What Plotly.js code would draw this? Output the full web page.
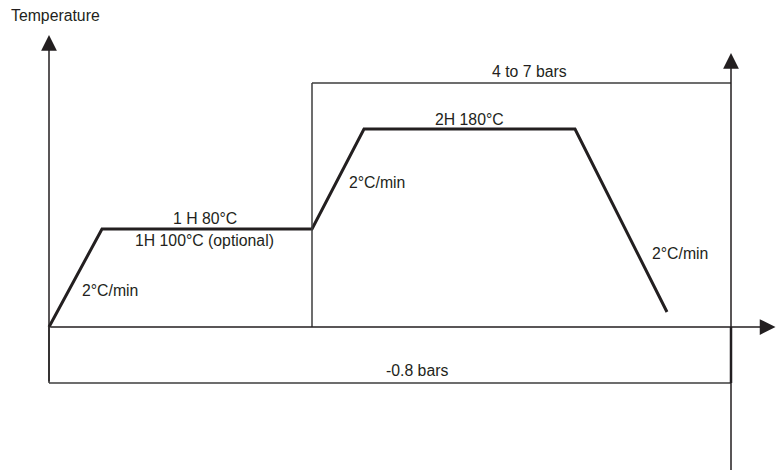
<!DOCTYPE html>
<html>
<head>
<meta charset="utf-8">
<script src="https://cdn.plot.ly/plotly-3.0.1.min.js"></script>
<style>html,body{margin:0;padding:0;background:#fff;}#chart{width:776px;height:472px;}</style>
</head>
<body>
<div id="chart"></div>
<script>
// Cure cycle profile (schematic units: time along x, temperature along y)
const profileTime = [0, 53, 263, 315, 526, 618];
const profileTemp = [0, 98, 98, 198, 198, 15];

// Pressure phases
const phaseLabels = ['-0.8 bars', '4 to 7 bars'];
const phaseStart = [0, 263];
const phaseEnd = [682, 682];
const phaseLevel = [-56, 244];

// Segment labels
const stepLabels = ['2°C/min', '1 H 80°C', '1H 100°C (optional)', '2°C/min', '2H 180°C', '2°C/min'];
const axisLabel = 'Temperature';

const ink = '#231f20';
const boxInk = '#3c3c3c';
const font = {family: 'Liberation Sans, Arial, sans-serif', size: 15.8, color: ink};

const shapes = [];
phaseLabels.forEach((lab, i) => {
  shapes.push({type: 'line', xref: 'x', yref: 'y', x0: phaseStart[i], x1: phaseEnd[i], y0: phaseLevel[i], y1: phaseLevel[i], line: {color: boxInk, width: 1.5}});
  shapes.push({type: 'line', xref: 'x', yref: 'y', x0: phaseStart[i], x1: phaseStart[i], y0: 0, y1: phaseLevel[i], line: {color: boxInk, width: 1.5}});
});
// thick right edge of vacuum box
shapes.push({type: 'line', xref: 'x', yref: 'y', x0: phaseEnd[0], x1: phaseEnd[0], y0: 0, y1: phaseLevel[0], line: {color: ink, width: 2.5}});

const arrow = (x, y, ax, ay) => ({
  xref: 'x', yref: 'y', axref: 'x', ayref: 'y', x: x, y: y, ax: ax, ay: ay,
  text: '', showarrow: true, arrowhead: 2, arrowsize: 2.1, arrowwidth: 1.5, arrowcolor: ink
});

const annotations = [
  arrow(0, 292, 0, phaseLevel[0]),                 // temperature axis
  arrow(726.5, 0, 0, 0),                           // time axis
  arrow(phaseEnd[1], 274, phaseEnd[1], -144.5),     // pressure axis
  {xref: 'x', yref: 'y', x: 6, y: 312, text: axisLabel, showarrow: false, font: font},
  {xref: 'x', yref: 'y', x: (phaseStart[0] + phaseEnd[0]) / 2 + 27, y: -43, text: phaseLabels[0], showarrow: false, font: font},
  {xref: 'x', yref: 'y', x: (phaseStart[1] + phaseEnd[1]) / 2 + 8, y: 256, text: phaseLabels[1], showarrow: false, font: font},
  {xref: 'x', yref: 'y', x: 61, y: 37, text: stepLabels[0], showarrow: false, font: font},
  {xref: 'x', yref: 'y', x: 156, y: 109, text: stepLabels[1], showarrow: false, font: font},
  {xref: 'x', yref: 'y', x: 155, y: 87, text: stepLabels[2], showarrow: false, font: font},
  {xref: 'x', yref: 'y', x: 327.5, y: 145, text: stepLabels[3], showarrow: false, font: font},
  {xref: 'x', yref: 'y', x: 420, y: 208, text: stepLabels[4], showarrow: false, font: font},
  {xref: 'x', yref: 'y', x: 630.5, y: 74, text: stepLabels[5], showarrow: false, font: font}
];

const traces = [{
  type: 'scatter', mode: 'lines', x: profileTime, y: profileTemp,
  line: {color: ink, width: 3}, hoverinfo: 'skip', showlegend: false, cliponaxis: false
}];

const layout = {
  width: 776, height: 472,
  margin: {l: 0, r: 0, t: 0, b: 0, pad: 0},
  paper_bgcolor: '#ffffff', plot_bgcolor: '#ffffff',
  xaxis: {range: [-49, 727], autorange: false, visible: false, fixedrange: true},
  yaxis: {range: [-145, 327], autorange: false, visible: false, fixedrange: true},
  shapes: shapes,
  annotations: annotations,
  showlegend: false
};

Plotly.newPlot('chart', traces, layout, {staticPlot: true, displayModeBar: false});
</script>
</body>
</html>
